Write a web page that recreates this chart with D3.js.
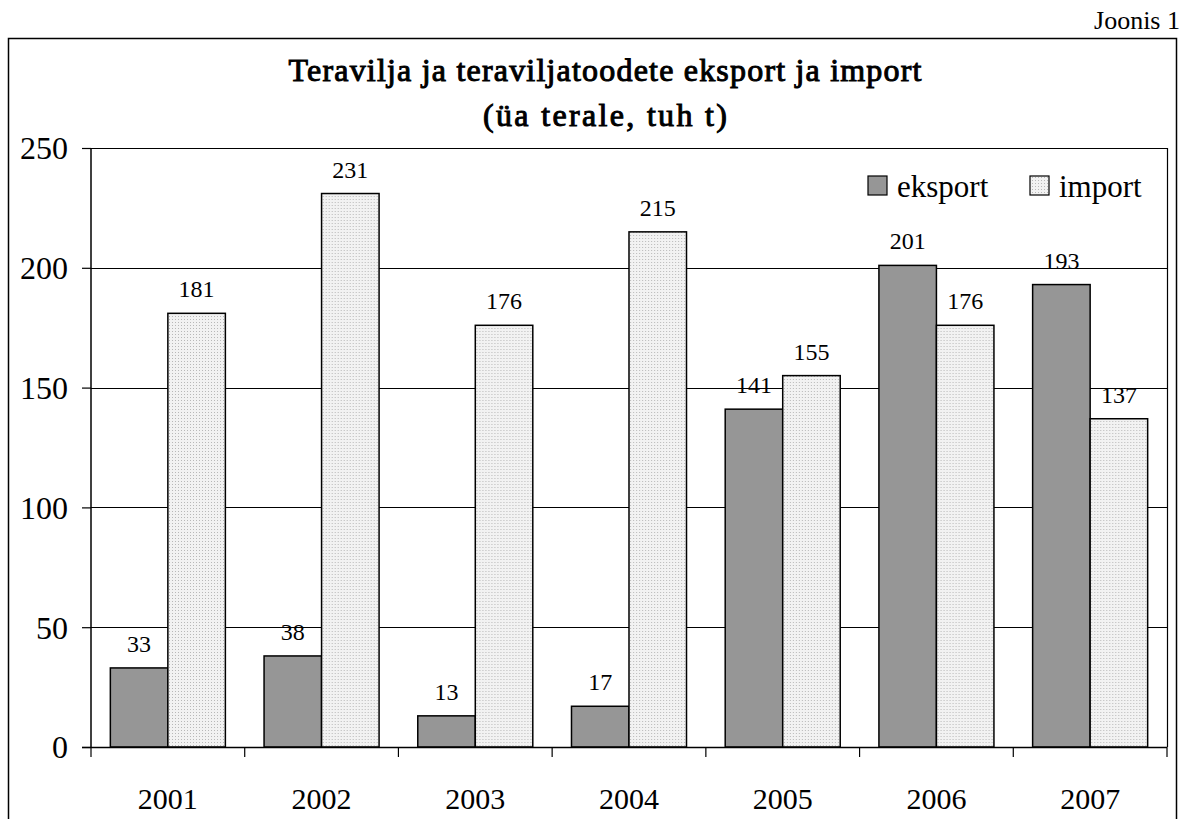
<!DOCTYPE html>
<html>
<head>
<meta charset="utf-8">
<script src="https://cdn.jsdelivr.net/npm/d3@7"></script>
<style>
  body { margin: 0; background: #fff; }
</style>
</head>
<body>
<div id="chart"></div>
<script>
// data
var years = ["2001", "2002", "2003", "2004", "2005", "2006", "2007"];
var eksport = [33, 38, 13, 17, 141, 201, 193];
var imports = [181, 231, 176, 215, 155, 176, 137];
var series = ["eksport", "import"];
var yTicks = [0, 50, 100, 150, 200, 250];

var SERIF = "'Liberation Serif', 'Times New Roman', serif";
var W = 1182, H = 819;
var margin = {top: 148, right: 15, bottom: 72, left: 91},
    width = 1167 - margin.left,
    height = 747 - margin.top;

var svg = d3.select("#chart")
  .append("svg")
    .attr("width", W)
    .attr("height", H);

// dotted fill for import bars
var defs = svg.append("defs");
var pat = defs.append("pattern")
    .attr("id", "dots")
    .attr("patternUnits", "userSpaceOnUse")
    .attr("width", 3).attr("height", 3);
pat.append("rect").attr("width", 3).attr("height", 3).attr("fill", "#f2f2f2");
pat.append("rect").attr("width", 1).attr("height", 1).attr("fill", "#b8b8b8");

// outer frame (open at the bottom)
svg.append("path")
    .attr("d", "M8.5,819 V38.5 H1176.5 V819")
    .attr("fill", "none")
    .attr("stroke", "#000")
    .attr("stroke-width", 1.5);

svg.append("text")
    .attr("x", 1180).attr("y", 29)
    .attr("text-anchor", "end")
    .style("font-family", SERIF).style("font-size", "26px")
    .text("Joonis 1");

// title, bold faked with a thin stroke
var titles = [["Teravilja ja teraviljatoodete eksport ja import", 81, 633], ["(üa terale, tuh t)", 126, 244]];
titles.forEach(function(t) {
  svg.append("text")
    .attr("x", 605).attr("y", t[1])
    .attr("text-anchor", "middle")
    .attr("textLength", t[2]).attr("lengthAdjust", "spacing")
    .style("font-family", SERIF).style("font-size", "32px")
    .attr("fill", "#000").attr("stroke", "#000").attr("stroke-width", 1)
    .text(t[0]);
});

var g = svg.append("g")
    .attr("transform", "translate(" + margin.left + "," + margin.top + ")");

var x = d3.scaleBand().domain(years).range([0, width]).paddingInner(0).paddingOuter(0);
var inner = d3.scaleBand().domain(series).range([0, x.bandwidth()]).paddingOuter(0.3364).paddingInner(0);
var y = d3.scaleLinear().domain([0, 250]).range([height, 0]);

// gridlines
g.selectAll(".grid")
  .data(yTicks.slice(1, -1))
  .enter()
  .append("line")
    .attr("x1", 0).attr("x2", width)
    .attr("y1", function(d) { return Math.round(y(d)) + 0.5; })
    .attr("y2", function(d) { return Math.round(y(d)) + 0.5; })
    .attr("stroke", "#000").attr("stroke-width", 1);

// plot border top + right
g.append("path")
    .attr("d", "M0," + (y(250) + 0.5) + " H" + (width + 0.5) + " V" + height)
    .attr("fill", "none").attr("stroke", "#000").attr("stroke-width", 1.2);

var rows = years.map(function(yr, i) {
  return {year: yr, values: [{key: "eksport", v: eksport[i]}, {key: "import", v: imports[i]}]};
});

var groups = g.selectAll(".grp")
  .data(rows)
  .enter()
  .append("g")
    .attr("transform", function(d) { return "translate(" + x(d.year) + ",0)"; });

groups.selectAll("rect")
  .data(function(d) { return d.values; })
  .enter()
  .append("rect")
    .attr("x", function(d) { return inner(d.key); })
    .attr("width", inner.bandwidth())
    .attr("y", function(d) { return y(d.v); })
    .attr("height", function(d) { return height - y(d.v); })
    .attr("fill", function(d) { return d.key == "eksport" ? "#969696" : "url(#dots)"; })
    .attr("stroke", "#000").attr("stroke-width", 1.5);

groups.selectAll(".lbl")
  .data(function(d) { return d.values; })
  .enter()
  .append("text")
    .attr("x", function(d) { return inner(d.key) + inner.bandwidth() / 2; })
    .attr("y", function(d) { return y(d.v) - 16; })
    .attr("text-anchor", "middle")
    .style("font-family", SERIF).style("font-size", "24px")
    .text(function(d) { return d.v; });

// y axis
var yAxis = g.append("g")
    .call(d3.axisLeft(y).tickValues(yTicks).tickSize(9).tickPadding(14));
yAxis.select(".domain").attr("stroke", "#000").attr("stroke-width", 1.5).attr("d", "M0," + height + "V" + y(250));
yAxis.selectAll("line").attr("stroke-width", 1.2);
yAxis.selectAll("text").style("font-size", "32px").style("font-family", SERIF).attr("dy", "0.34em");

// x axis
var xAxis = g.append("g")
    .attr("transform", "translate(0," + height + ")")
    .call(d3.axisBottom(x).tickSize(0).tickPadding(41));
xAxis.select(".domain").attr("stroke", "#000").attr("stroke-width", 1.5).attr("d", "M-9,0.5H" + width);
xAxis.selectAll("text").style("font-size", "30px").style("font-family", SERIF);
xAxis.selectAll(".xt")
  .data(d3.range(years.length + 1))
  .enter()
  .append("line")
    .attr("x1", function(i) { return i * x.step(); })
    .attr("x2", function(i) { return i * x.step(); })
    .attr("y1", 0).attr("y2", 10)
    .attr("stroke", "#000").attr("stroke-width", 1.2);

// legend
var leg = svg.append("g");
var legX = [868, 1030];
series.forEach(function(s, i) {
  leg.append("rect")
    .attr("x", legX[i]).attr("y", 176)
    .attr("width", 19).attr("height", 19)
    .attr("fill", s == "eksport" ? "#969696" : "url(#dots)")
    .attr("stroke", "#000").attr("stroke-width", 1.2);
  leg.append("text")
    .attr("x", legX[i] + 29).attr("y", 197)
    .style("font-family", SERIF).style("font-size", "31px")
    .text(s);
});
</script>
</body>
</html>
